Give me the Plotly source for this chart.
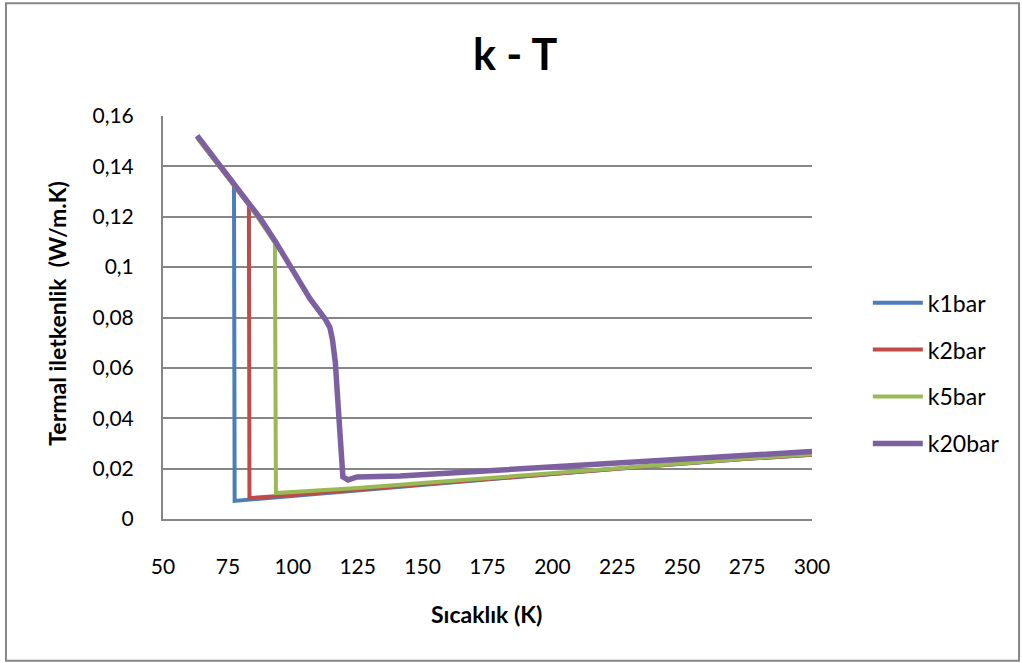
import plotly.graph_objects as go

# ---- data ----
T_k1 = [63.15, 70, 77.35, 77.6, 100, 125, 150, 175, 200, 225, 250, 275, 300]
k_k1 = [0.1515, 0.1425, 0.1328, 0.0072, 0.0092, 0.0115, 0.0137, 0.0158, 0.0179, 0.0199, 0.0220, 0.0239, 0.0255]

T_k2 = [63.15, 70, 77.35, 83.1, 83.3, 100, 125, 150, 175, 200, 225, 250, 275, 300]
k_k2 = [0.1515, 0.1425, 0.1328, 0.1247, 0.0083, 0.0095, 0.0117, 0.0138, 0.0159, 0.0180, 0.0200, 0.0220, 0.0239, 0.0255]

T_k5 = [63.15, 70, 77.35, 83.1, 88, 93.1, 93.5, 125, 150, 175, 200, 225, 250, 275, 300]
k_k5 = [0.1515, 0.1425, 0.1328, 0.1247, 0.1175, 0.1096, 0.0103, 0.0123, 0.0143, 0.0163, 0.0183, 0.0203, 0.0222, 0.0240, 0.0257]

T_k20 = [63.15, 70, 77.35, 83.1, 87.4, 93.1, 100.1, 106.6, 112.4, 114.3, 115.3, 116.4, 117.4, 118.4, 119.3,
         121.3, 124.7, 141.3, 160, 200, 225, 250, 275, 300]
k_k20 = [0.1522, 0.1432, 0.1335, 0.1255, 0.1195, 0.1105, 0.0990, 0.0875, 0.0795, 0.0760, 0.0711, 0.0620, 0.0460, 0.0300, 0.0167,
         0.0155, 0.0167, 0.0171, 0.0183, 0.0205, 0.0221, 0.0238, 0.0254, 0.0268]

series_names = ["k1bar", "k2bar", "k5bar", "k20bar"]
series_T = [T_k1, T_k2, T_k5, T_k20]
series_k = [k_k1, k_k2, k_k5, k_k20]
colors = ["#4a7ebb", "#be4b48", "#98b954", "#7d60a0"]
widths = [4, 4, 4, 5.5]

y_tickvals = [0, 0.02, 0.04, 0.06, 0.08, 0.10, 0.12, 0.14, 0.16]
y_ticktext = ["0", "0,02", "0,04", "0,06", "0,08", "0,1", "0,12", "0,14", "0,16"]
x_tickvals = [50, 75, 100, 125, 150, 175, 200, 225, 250, 275, 300]

FONT = "Lato"

fig = go.Figure()
for name, T, k, c, w in zip(series_names, series_T, series_k, colors, widths):
    fig.add_trace(go.Scatter(x=T, y=k, mode="lines", name=name, legendgroup=name,
                             line=dict(color=c, width=w)))

fig.update_layout(
    width=1022, height=663,
    margin=dict(l=163, r=210, t=116, b=144),
    paper_bgcolor="white", plot_bgcolor="white",
    font=dict(family=FONT, size=21, color="#000000"),
    showlegend=True,
    legend=dict(x=1.086, y=0.59, xanchor="left", yanchor="top",
                font=dict(family=FONT, size=23, color="#000"),
                tracegroupgap=14, itemwidth=50, bgcolor="rgba(0,0,0,0)"),
    title=dict(text="<b>k - T</b>", x=0.504, xref="container", y=0.917, yref="container",
               xanchor="center", yanchor="middle", font=dict(family=FONT, size=43, color="#000")),
    xaxis=dict(range=[50, 300], tickvals=x_tickvals, showgrid=False, zeroline=False,
               showline=True, linecolor="#868686", linewidth=2, ticks="",
               ticklabelstandoff=28, tickfont=dict(size=21)),
    yaxis=dict(range=[0, 0.16], tickvals=y_tickvals, ticktext=y_ticktext,
               showgrid=True, gridcolor="#868686", gridwidth=1.5, zeroline=False,
               showline=True, linecolor="#868686", linewidth=2, ticks="",
               ticklabelstandoff=23, tickfont=dict(size=21)),
    annotations=[
        dict(text="<b>Sıcaklık (K)</b>", xref="paper", yref="paper", x=0.499, y=-0.236,
             xanchor="center", yanchor="middle", showarrow=False, font=dict(size=23)),
        dict(text="<b>Termal iletkenlik  (W/m.K)</b>", xref="paper", yref="paper", x=-0.163, y=0.51,
             xanchor="center", yanchor="middle", textangle=-90, showarrow=False, font=dict(size=23)),
    ],
    shapes=[
        dict(type="rect", xref="paper", yref="paper", x0=-0.2419, x1=1.319, y0=-0.352, y1=1.280,
             line=dict(color="#878787", width=2), fillcolor="rgba(0,0,0,0)", layer="below"),
    ],
)

fig.write_html("out.html")
